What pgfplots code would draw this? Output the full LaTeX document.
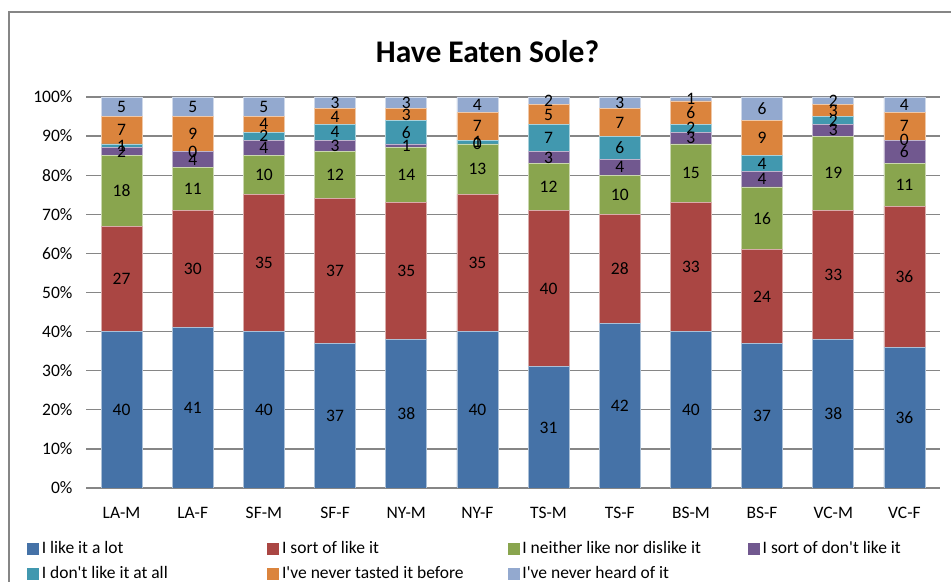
\documentclass[border=0pt]{standalone}
\usepackage{pgfplots}
\pgfplotsset{compat=1.18}
\usepackage{pgfplotstable}
\usepackage{fontspec}
\setmainfont{Carlito}
\definecolor{c1}{HTML}{4572A7}
\definecolor{c2}{HTML}{AA4643}
\definecolor{c3}{HTML}{89A54E}
\definecolor{c4}{HTML}{71588F}
\definecolor{c5}{HTML}{4198AF}
\definecolor{c6}{HTML}{DB843D}
\definecolor{c7}{HTML}{93A9CF}
\definecolor{gridgray}{HTML}{868686}
\newcommand{\lf}{\fontsize{17.5bp}{21bp}\selectfont}
\newcommand{\lstrut}{\rule[-7bp]{0pt}{26bp}}
\newcommand{\lent}[1]{\makebox[225.5bp][l]{\lstrut #1}}
\newcommand{\q}{\textquotesingle}

\pgfplotstableread{
x a b c d e f g
0 40 27 18 2 1 7 5
1 41 30 11 4 0 9 5
2 40 35 10 4 2 4 5
3 37 37 12 3 4 4 3
4 38 35 14 1 6 3 3
5 40 35 13 0 1 7 4
6 31 40 12 3 7 5 2
7 42 28 10 4 6 7 3
8 40 33 15 3 2 6 1
9 37 24 16 4 4 9 6
10 38 33 19 3 2 3 2
11 36 36 11 6 0 7 4
}\data

\pgfplotsset{
  base/.style={at={(86bp,94bp)}, anchor=south west, scale only axis,
    width=854bp, height=391bp,
    xmin=-0.5, xmax=11.5, ymin=0, ymax=100,
    xtick={0,...,11}, ytick={0,10,...,100},
    /pgf/number format/assume math mode=true},
  sq/.style={fill=#1, draw=#1!45!white, line width=0.8bp,
    legend image code/.code={\fill[#1] (0bp,-1bp) rectangle (11bp,10bp);}},
  lb/.style={draw=none, mark=none,
    visualization depends on={\thisrow{#1}\as\val}},
}

\begin{document}
\begin{tikzpicture}
\useasboundingbox (0,0) rectangle (951bp,582bp);
\draw[gridgray, line width=1.3bp] (9bp,0) -- (9bp,570bp) -- (951bp,570bp);
\node[font=\fontsize{31.5bp}{36bp}\selectfont\bfseries, anchor=base, inner sep=0pt] at (487.5bp,519.7bp) {Have Eaten Sole?};

\begin{axis}[base, ybar stacked, bar width=41bp,
  xticklabels={LA-M,LA-F,SF-M,SF-F,NY-M,NY-F,TS-M,TS-F,BS-M,BS-F,VC-M,VC-F},
  yticklabel={\pgfmathprintnumber{\tick}\%},
  ticklabel style={font=\lf},
  xticklabel style={yshift=-16bp},
  yticklabel style={xshift=-10bp},
  major tick length=0pt,
  axis line style={draw=none},
  ymajorgrids, grid style={gridgray, line width=1.3bp},
  legend columns=4,
  legend style={at={(axis description cs:-0.0691,-0.11765)}, anchor=north west,
    draw=none, fill=none, inner sep=0pt, outer sep=0pt, row sep=5bp,
    font=\lf, cells={anchor=base west}, nodes={inner sep=0pt},
    /tikz/every odd column/.append style={column sep=3bp},
    /tikz/every even column/.append style={column sep=0pt}},
]
\addplot[sq=c1] table[x=x,y=a]{\data};
\addplot[sq=c2] table[x=x,y=b]{\data};
\addplot[sq=c3] table[x=x,y=c]{\data};
\addplot[sq=c4] table[x=x,y=d]{\data};
\addplot[sq=c5] table[x=x,y=e]{\data};
\addplot[sq=c6] table[x=x,y=f]{\data};
\addplot[sq=c7] table[x=x,y=g]{\data};
\legend{\lent{I like it a lot},\lent{I sort of like it},\lent{I neither like nor dislike it},\lent{I sort of don\q t like it},\lent{I don\q t like it at all},\lent{I\q ve never tasted it before},\lent{I\q ve never heard of it}}
\end{axis}

\begin{axis}[base, hide axis, clip=false, stack plots=y,
  nodes near coords, point meta=explicit,
  every node near coord/.append style={font=\lf, text=black, anchor=center, yshift={-1.955bp*\val}}]
\addplot[lb=a] table[x=x,y=a,meta=a]{\data};
\addplot[lb=b] table[x=x,y=b,meta=b]{\data};
\addplot[lb=c] table[x=x,y=c,meta=c]{\data};
\addplot[lb=d] table[x=x,y=d,meta=d]{\data};
\addplot[lb=e] table[x=x,y=e,meta=e]{\data};
\addplot[lb=f] table[x=x,y=f,meta=f]{\data};
\addplot[lb=g] table[x=x,y=g,meta=g]{\data};
\end{axis}
\end{tikzpicture}
\end{document}
